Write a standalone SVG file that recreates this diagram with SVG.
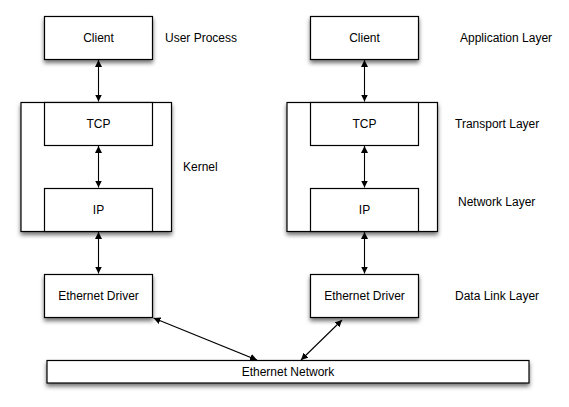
<svg xmlns="http://www.w3.org/2000/svg" width="569" height="407" viewBox="0 0 569 407">
<style>
.box{fill:#fff;stroke:#000;stroke-width:1.2}
.sh{filter:url(#ds)}
text{font-family:"Liberation Sans",Arial,sans-serif;font-size:12px;fill:#000}
.c{text-anchor:middle}
.ln{stroke:#000;stroke-width:1.1;fill:none;marker-start:url(#ah);marker-end:url(#ah)}
</style>
<defs>
<filter id="ds" x="-20%" y="-20%" width="140%" height="160%">
<feDropShadow dx="0" dy="3" stdDeviation="2" flood-color="#000" flood-opacity="0.55"/>
</filter>
<marker id="ah" viewBox="0 0 10 10" refX="10" refY="5" markerWidth="7" markerHeight="7" markerUnits="userSpaceOnUse" orient="auto-start-reverse">
<path d="M0,0 L10,5 L0,10 z" fill="#000"/>
</marker>
</defs>
<rect width="569" height="407" fill="#fff"/>

<g id="left-client"><rect class="box sh" x="44.5" y="16.5" width="108" height="43"/><text class="c" x="98.5" y="42">Client</text></g>
<g id="left-kernel"><rect class="box sh" x="21" y="102.5" width="150.5" height="129"/></g>
<g id="left-tcp"><rect class="box" x="44.5" y="102.5" width="108" height="43"/><text class="c" x="98.5" y="128">TCP</text></g>
<g id="left-ip"><rect class="box" x="44.5" y="188.5" width="108" height="43"/><text class="c" x="98.5" y="214">IP</text></g>
<g id="left-driver"><rect class="box sh" x="44.5" y="274.5" width="108" height="43"/><text class="c" x="98.5" y="300">Ethernet Driver</text></g>

<g id="right-client"><rect class="box sh" x="310.5" y="16.5" width="108" height="43"/><text class="c" x="364.5" y="42">Client</text></g>
<g id="right-kernel"><rect class="box sh" x="287" y="102.5" width="150.5" height="129"/></g>
<g id="right-tcp"><rect class="box" x="310.5" y="102.5" width="108" height="43"/><text class="c" x="364.5" y="128">TCP</text></g>
<g id="right-ip"><rect class="box" x="310.5" y="188.5" width="108" height="43"/><text class="c" x="364.5" y="214">IP</text></g>
<g id="right-driver"><rect class="box sh" x="310.5" y="274.5" width="108" height="43"/><text class="c" x="364.5" y="300">Ethernet Driver</text></g>

<g id="network"><rect class="box sh" x="47" y="360.5" width="482" height="22.5"/><text class="c" x="288" y="376">Ethernet Network</text></g>

<g id="labels">
<text x="165" y="42">User Process</text>
<text x="183" y="171">Kernel</text>
<text x="460" y="42">Application Layer</text>
<text x="455" y="128">Transport Layer</text>
<text x="458" y="206">Network Layer</text>
<text x="455" y="300">Data Link Layer</text>
</g>

<g id="connectors">
<line class="ln" x1="98.5" y1="60" x2="98.5" y2="101.5"/>
<line class="ln" x1="98.5" y1="146" x2="98.5" y2="187.5"/>
<line class="ln" x1="98.5" y1="232" x2="98.5" y2="273.5"/>
<line class="ln" x1="364.5" y1="60" x2="364.5" y2="101.5"/>
<line class="ln" x1="364.5" y1="146" x2="364.5" y2="187.5"/>
<line class="ln" x1="364.5" y1="232" x2="364.5" y2="273.5"/>
<line class="ln" x1="153.5" y1="318" x2="257" y2="360"/>
<line class="ln" x1="342" y1="320" x2="301" y2="360"/>
</g>
</svg>
